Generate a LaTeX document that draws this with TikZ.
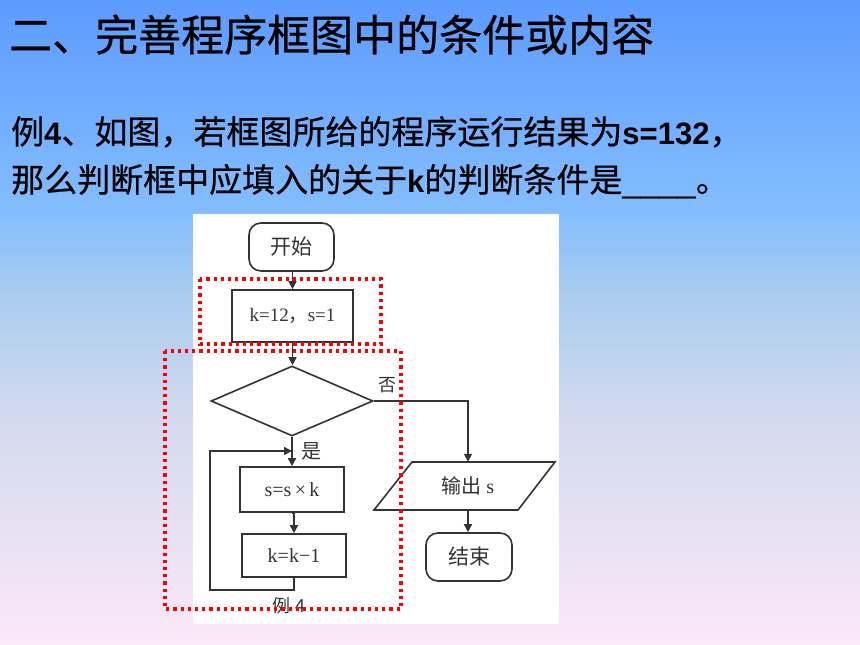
\documentclass[tikz,border=0pt]{standalone}
\usepackage{fontspec}
\usetikzlibrary{arrows.meta,shapes.geometric}
\newfontfamily\cjk{Noto Sans CJK SC}
\newfontfamily\cjktitle[FakeBold=0.6]{Noto Sans CJK SC}
\newfontfamily\cjkq[FakeBold=0.5]{Noto Sans CJK SC}
\newfontfamily\latq{Liberation Sans}
\newfontfamily\fcser{Liberation Serif}
\newcommand\myq{\cjkq\mdseries\fontsize{33}{36}\selectfont}
\newcommand\myl{\latq\bfseries\fontsize{31}{34}\selectfont}
\newcommand\myu{\latq\mdseries\fontsize{33}{36}\selectfont}
\definecolor{bgA}{HTML}{FCE8F8}
\definecolor{bgB}{HTML}{EAE2F4}
\definecolor{bgC}{HTML}{D4DAEE}
\definecolor{bgD}{HTML}{A8CCF0}
\definecolor{bgE}{HTML}{84BEFF}
\definecolor{bgF}{HTML}{5C9BFF}
\definecolor{fcline}{HTML}{333333}
\pgfdeclareverticalshading{bgshade}{100bp}{color(0bp)=(bgA); color(25bp)=(bgA); color(32.5bp)=(bgB); color(42.5bp)=(bgC); color(52.5bp)=(bgD); color(58.5bp)=(bgE); color(75bp)=(bgF); color(100bp)=(bgF)}
\tikzset{
  fcbox/.style={draw=fcline, line width=1.6pt, fill=white, text=fcline, inner sep=0pt},
  termbox/.style={fcbox, rounded corners=12pt},
  arr/.style={draw=fcline, line width=1.6pt, -{Triangle[length=8pt,width=8pt]}},
  plain/.style={draw=fcline, line width=1.6pt},
  redbox/.style={draw=red, line width=3.2pt, dash pattern=on 3.2pt off 4pt},
  lbl/.style={text=fcline, inner sep=0pt}
}
\begin{document}
\begin{tikzpicture}[x=1pt,y=-1pt]
\useasboundingbox (0,0) rectangle (860,645);
\shade[shading=bgshade] (0,0) rectangle (860,645);
% white panel
\fill[white] (193,214) rectangle (559,624);
% titles
\node[anchor=base west, inner sep=0pt] (title) at (9,51) {\cjktitle\fontsize{43}{46}\selectfont 二、完善程序框图中的条件或内容};
\node[anchor=base west, inner sep=0pt] (q1) at (11,144) {\myq 例\myl 4\myq 、如图，若框图所给的程序运行结果为\myl s=132\myq ，};
\node[anchor=base west, inner sep=0pt] (q2) at (11,192) {\myq 那么判断框中应填入的关于\myl k\myq 的判断条件是\myu\_\_\_\_\myq 。};
% flowchart nodes
\node[termbox, minimum width=85pt, minimum height=48pt] (start) at (291.5,247) {\cjk\fontsize{21}{23}\selectfont 开始};
\node[fcbox, minimum width=121pt, minimum height=52pt] (init) at (292.5,316) {\fcser\fontsize{19}{21}\selectfont k=12{\cjk ，}s=1};
\node[fcbox, diamond, minimum width=162pt, minimum height=70pt] (dec) at (292,401) {};
\node[fcbox, minimum width=104pt, minimum height=45pt] (body1) at (292,489.5) {\fcser\fontsize{20}{22}\selectfont s=s\,×\,k};
\node[fcbox, minimum width=104pt, minimum height=43pt] (body2) at (294,555.5) {\fcser\fontsize{20}{22}\selectfont k=k−1};
\draw[plain, fill=white] (412,462) -- (555,462) -- (518,510) -- (374,510) -- cycle;
\node[lbl, minimum height=48pt] (out) at (468,486) {\cjk\fontsize{20}{22}\selectfont 输出 \fcser s};
\node[termbox, minimum width=86pt, minimum height=48pt] (end) at (469,557) {\cjk\fontsize{21}{23}\selectfont 结束};
% connectors
\draw[arr] (start.south -| init.north) -- (init.north);
\draw[arr] (init.south) -- (init.south |- dec.north);
\draw[arr] (dec.south) -- (dec.south |- body1.north);
\draw[arr] (body1.south) -- (body1.south -| body2.north) -- (body2.north);
\draw[arr] (dec.east) -| (out.north);
\draw[arr] (out.south) -- (out.south |- end.north);
\coordinate (lp) at (210,590);
\coordinate (join) at (292,451);
\draw[arr] (body2.south) |- (lp) |- (join);
% labels
\node[lbl] (no) at (387,385) {\cjk\fontsize{18}{20}\selectfont 否};
\node[lbl] (yes) at (311,451) {\cjk\fontsize{20}{22}\selectfont 是};
\node[lbl] (cap) at (289,606) {\cjk\fontsize{18}{20}\selectfont 例 4};
% red dotted boxes
\draw[redbox] (200,279) rectangle (381,344);
\draw[redbox] (165,351) rectangle (401,609);
\end{tikzpicture}
\end{document}
